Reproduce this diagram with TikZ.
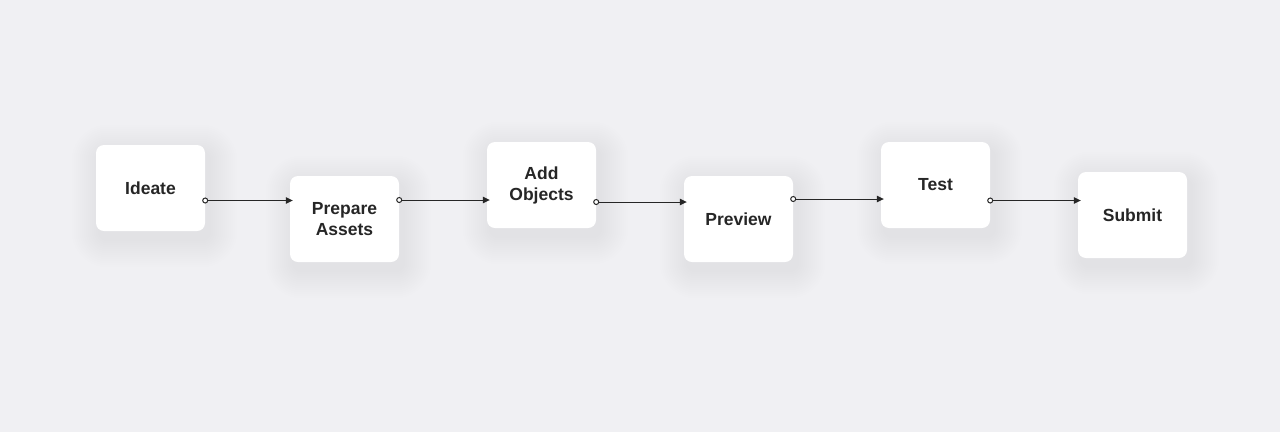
\documentclass[tikz,border=0pt]{standalone}
\usepackage{fontspec}
\setmainfont{Liberation Sans}
\usetikzlibrary{arrows.meta}
\usetikzlibrary{backgrounds}
\definecolor{bgcol}{HTML}{F0F0F3}
\definecolor{inkcol}{HTML}{262626}
\definecolor{shadecol}{HTML}{7A7A96}
\tikzset{
stage/.style={rectangle, rounded corners=8pt, fill=white, draw=none,
  minimum width=109pt, minimum height=86pt, align=center, text=inkcol,
  font=\fontsize{17.5}{21}\selectfont\bfseries},
flow/.style={draw=inkcol, line width=1pt, shorten <=-3pt, shorten >=-3pt,
  {Circle[open, length=6pt, fill=white]}-{Triangle[length=7pt, width=6.5pt]}}}

\begin{document}
\begin{tikzpicture}[x=1pt, y=-1pt]
    \useasboundingbox (0,0) rectangle (1280,432);

                \node[stage] (ideate) at (150.5,188) {Ideate};
                \node[stage] (prepare) at (344.5,219) {Prepare\\Assets};
                \node[stage] (objects) at (541.5,185) {Add\\Objects};
                \node[stage] (preview) at (738.5,219) {Preview};
                \node[stage] (test) at (935.5,185) {Test};
                \node[stage] (submit) at (1132.5,215) {Submit};

                \draw[flow] (ideate.east |- 0,200.5) -- (prepare.west |- 0,200.5);
                \draw[flow] (prepare.east |- 0,200) -- (objects.west |- 0,200);
                \draw[flow] (objects.east |- 0,202) -- (preview.west |- 0,202);
                \draw[flow] (preview.east |- 0,199) -- (test.west |- 0,199);
                \draw[flow] (test.east |- 0,200.5) -- (submit.west |- 0,200.5);

    % soft glow and shadow under the boxes
    \begin{scope}[on background layer]
        \fill[bgcol] (0,0) rectangle (1280,432);
        \foreach \n in {ideate,prepare,objects,preview,test,submit}{
            \foreach \k in {2,4,...,20}
                \fill[white, opacity=0.06, rounded corners=8pt+\k pt]
                    ([xshift=-\k pt-4pt, yshift=-\k pt+6pt]\n.south west) rectangle ([xshift=\k pt-4pt, yshift=\k pt+6pt]\n.north east);
            \foreach \k in {2,4,...,28}
                \fill[shadecol, opacity=0.009, rounded corners=8pt+\k pt]
                    ([xshift=-\k pt+4pt, yshift=-\k pt-8pt]\n.south west) rectangle ([xshift=\k pt+4pt, yshift=\k pt-8pt]\n.north east);
        }
    \end{scope}

            \end{tikzpicture}
\end{document}
